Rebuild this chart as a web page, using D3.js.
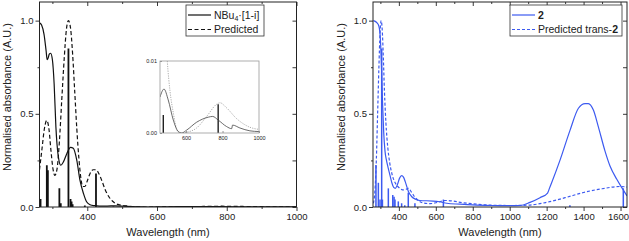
<!DOCTYPE html>
<html>
<head>
<meta charset="utf-8">
<script src="https://cdn.jsdelivr.net/npm/d3@7"></script>
<style>
body { margin: 0; background: #fff; }
text { font-family: "Liberation Sans", Arial, sans-serif; fill: #222; }
</style>
</head>
<body>
<div id="chart"></div>
<script>
////// data: left panel (NBu4[1-i]) //////
var expWl  = [263, 269, 276, 282, 285, 288, 291, 295, 300, 305, 310, 317, 324, 331, 341, 352, 360, 370, 379, 389, 398, 408, 420, 435,
              457, 479, 502, 530, 557, 576, 603, 658, 722, 746, 776, 822, 850, 855, 895, 950, 1000];
var expAbs = [0.988, 0.976, 0.926, 0.837, 0.79, 0.80, 0.82, 0.825, 0.79, 0.66, 0.43, 0.27, 0.224, 0.24, 0.285, 0.32, 0.315, 0.25, 0.144, 0.073, 0.028, 0.012, 0.007, 0.005,
              0.005, 0.0061, 0.0046, 0.0018, 0.0002, 0.0, 0.0004, 0.0015, 0.0022, 0.0023, 0.0018, 0.0009, 0.0006, 0.0011, 0.0007, 0.0003, 0.0002];

var predWl  = [263, 270, 277, 284, 290, 296, 302, 307, 313, 320, 327, 334, 340, 346, 352, 358, 364, 370, 376, 382, 387, 393, 400, 408, 417, 425, 433, 442, 452, 462, 472, 482, 490,
               497, 512, 530, 548, 567, 603, 658, 713, 768, 786, 822, 877, 950, 1000];
var predAbs = [0.2, 0.31, 0.42, 0.465, 0.42, 0.30, 0.20, 0.17, 0.20, 0.35, 0.58, 0.80, 0.95, 1.0, 0.96, 0.82, 0.62, 0.42, 0.26, 0.15, 0.11, 0.11, 0.14, 0.18, 0.20, 0.20, 0.18, 0.14, 0.09, 0.055, 0.032, 0.018, 0.013,
               0.010, 0.0058, 0.0028, 0.0006, 0.0, 0.0001, 0.0007, 0.0023, 0.004, 0.0042, 0.0035, 0.002, 0.0008, 0.0005];

var stickWl  = [266, 284, 287, 320, 324, 346, 352, 355, 358, 393, 425, 475, 776];
var stickAbs = [0.043, 0.224, 0.197, 0.10, 0.02, 0.85, 0.043, 0.03, 0.015, 0.008, 0.18, 0.0025, 0.004];

////// data: right panel (2) //////
var exp2Wl  = [262, 280, 292, 300, 306, 312, 318, 325, 333, 342, 352, 362, 372, 381, 392, 404, 415, 425, 435, 451, 470, 490, 514, 585, 620, 659, 731, 800, 900, 1000,
               1056, 1110, 1164, 1205, 1215, 1227, 1272, 1326, 1372, 1408, 1426, 1453, 1480, 1516, 1543, 1579, 1606, 1635];
var exp2Abs = [1.0, 0.99, 0.97, 0.9, 0.75, 0.55, 0.4, 0.3, 0.25, 0.21, 0.17, 0.13, 0.105, 0.1, 0.12, 0.155, 0.168, 0.16, 0.135, 0.085, 0.055, 0.042, 0.035, 0.032, 0.028, 0.02, 0.015, 0.011, 0.008, 0.007,
               0.008, 0.025, 0.05, 0.075, 0.1, 0.13, 0.25, 0.41, 0.53, 0.555, 0.555, 0.52, 0.43, 0.30, 0.22, 0.15, 0.105, 0.06];

var pred2Wl  = [262, 270, 278, 285, 292, 298, 304, 310, 316, 322, 330, 340, 350, 362, 375, 390, 405, 420, 440, 451, 468, 485, 505, 530, 570, 610, 650, 690, 740, 800, 900, 1000,
                1100, 1200, 1300, 1400, 1500, 1600, 1635];
var pred2Abs = [0.02, 0.08, 0.25, 0.5, 0.75, 0.93, 1.0, 0.95, 0.8, 0.62, 0.45, 0.32, 0.24, 0.18, 0.14, 0.115, 0.1, 0.092, 0.095, 0.1, 0.08, 0.055, 0.035, 0.022, 0.018, 0.025, 0.035, 0.032, 0.024, 0.017, 0.01, 0.008,
                0.01, 0.025, 0.05, 0.078, 0.098, 0.11, 0.107];

var stick2Wl  = [276, 289, 298, 307, 311, 343, 367, 374, 379, 397, 415, 432, 451, 487, 641, 1326, 1615];
var stick2Abs = [0.225, 0.13, 0.04, 0.85, 0.04, 0.1, 0.065, 0.055, 0.04, 0.03, 0.02, 0.01, 0.077, 0.02, 0.04, 0.01, 0.1];

var yMajor = [0, 0.5, 1.0];
var yMinor = [0.25, 0.75];

var svg = d3.select("#chart")
    .append("svg")
    .attr("width", 629)
    .attr("height", 241);

svg.append("rect").attr("width", 629).attr("height", 241).attr("fill", "#fff");

function zip(xs, ys) {
    return xs.map(function(d, i) { return {wl: d, a: ys[i]}; });
}

function styleAxis(g, fontSize) {
    g.select(".domain").remove();
    g.selectAll("line").attr("stroke", "#222").attr("stroke-width", 0.9);
    g.selectAll("text").style("font-size", fontSize + "px").attr("fill", "#222")
        .style("font-family", '"Liberation Sans", Arial, sans-serif');
}

function drawPanel(p) {
    var x = d3.scaleLinear().domain(p.xDomain).range([p.left, p.right]);
    var y = d3.scaleLinear().domain([0, 1.1]).range([p.bottom, p.top]);

    var g = svg.append("g");

    g.append("clipPath").attr("id", p.id + "-clip")
        .append("rect")
        .attr("x", p.left).attr("y", p.top)
        .attr("width", p.right - p.left).attr("height", p.bottom - p.top);

    var plot = g.append("g").attr("clip-path", "url(#" + p.id + "-clip)");

    var line = d3.line()
        .x(function(d) { return x(d.wl); })
        .y(function(d) { return y(d.a); })
        .curve(d3.curveMonotoneX);

    // sticks first, curves on top
    plot.selectAll(".stick")
        .data(zip(p.stickWl, p.stickAbs))
        .enter()
        .append("line")
        .attr("class", "stick")
        .attr("x1", function(d) { return x(d.wl); })
        .attr("x2", function(d) { return x(d.wl); })
        .attr("y1", y(0))
        .attr("y2", function(d) { return y(d.a); })
        .attr("stroke", p.color)
        .attr("stroke-width", p.stickWidth);

    plot.append("path")
        .datum(zip(p.predWl, p.predAbs))
        .attr("d", line)
        .attr("fill", "none")
        .attr("stroke", p.color)
        .attr("stroke-width", 1.2)
        .attr("stroke-dasharray", p.dash);

    plot.append("path")
        .datum(zip(p.expWl, p.expAbs))
        .attr("d", line)
        .attr("fill", "none")
        .attr("stroke", p.color)
        .attr("stroke-width", 1.2);

    // axes
    var bottomAxis = g.append("g").attr("transform", "translate(0," + p.bottom + ")")
        .call(d3.axisBottom(x).tickValues(p.xMajor).tickSize(4).tickPadding(2).tickFormat(d3.format("d")))
        .call(styleAxis, 9.5);
    // keep the last label inside the picture
    bottomAxis.selectAll(".tick text")
        .attr("dx", function(d) { return x(d) + 11 > 629 ? 629 - 11 - x(d) : 0; });
    g.append("g").attr("transform", "translate(0," + p.bottom + ")")
        .call(d3.axisBottom(x).tickValues(p.xMinor).tickSize(2).tickFormat(""))
        .call(styleAxis, 9.5);
    g.append("g").attr("transform", "translate(0," + p.top + ")")
        .call(d3.axisTop(x).tickValues(p.xMajor).tickSize(-4).tickFormat(""))
        .call(styleAxis, 9.5);
    g.append("g").attr("transform", "translate(0," + p.top + ")")
        .call(d3.axisTop(x).tickValues(p.xMinor).tickSize(-2).tickFormat(""))
        .call(styleAxis, 9.5);

    g.append("g").attr("transform", "translate(" + p.left + ",0)")
        .call(d3.axisLeft(y).tickValues(yMajor).tickSize(4).tickPadding(2).tickFormat(d3.format(".1f")))
        .call(styleAxis, 9.5);
    g.append("g").attr("transform", "translate(" + p.left + ",0)")
        .call(d3.axisLeft(y).tickValues(yMinor).tickSize(2).tickFormat(""))
        .call(styleAxis, 9.5);
    g.append("g").attr("transform", "translate(" + p.right + ",0)")
        .call(d3.axisRight(y).tickValues(yMajor.concat(yMinor)).tickSize(-4).tickFormat(""))
        .call(styleAxis, 9.5);

    g.append("rect")
        .attr("x", p.left).attr("y", p.top)
        .attr("width", p.right - p.left).attr("height", p.bottom - p.top)
        .attr("fill", "none").attr("stroke", "#222").attr("stroke-width", 1);

    // axis titles
    g.append("text")
        .attr("x", (p.left + p.right) / 2)
        .attr("y", 236)
        .attr("text-anchor", "middle")
        .style("font-size", "11px")
        .text("Wavelength (nm)");

    g.append("text")
        .attr("transform", "translate(" + p.yTitleX + ",97) rotate(-90)")
        .attr("text-anchor", "middle")
        .style("font-size", "11px")
        .text("Normalised absorbance (A.U.)");

    // legend
    var lg = g.append("g").attr("transform", "translate(" + p.legendX + ",5)");
    lg.append("rect")
        .attr("width", p.legendW).attr("height", 31)
        .attr("fill", "#fff").attr("stroke", "#333").attr("stroke-width", 0.8);
    lg.append("line").attr("x1", 2).attr("x2", 25).attr("y1", 10).attr("y2", 10)
        .attr("stroke", p.color).attr("stroke-width", 1.2);
    lg.append("line").attr("x1", 2).attr("x2", 25).attr("y1", 24.5).attr("y2", 24.5)
        .attr("stroke", p.color).attr("stroke-width", 1.2).attr("stroke-dasharray", p.dash);
    p.legendText(lg.append("text").attr("x", 28).attr("y", 13.8).style("font-size", "10.5px"), 0);
    p.legendText(lg.append("text").attr("x", 28).attr("y", 28.3).style("font-size", "10.5px"), 1);

    return {x: x, y: y, g: g};
}

var left = drawPanel({
    id: "left", left: 39.5, right: 296.5, top: 2, bottom: 207,
    xDomain: [263, 1000], xMajor: [400, 600, 800, 1000], xMinor: [300, 500, 700, 900],
    color: "#111", dash: "4,2.5", stickWidth: 1.8,
    expWl: expWl, expAbs: expAbs, predWl: predWl, predAbs: predAbs, stickWl: stickWl, stickAbs: stickAbs,
    yTitleX: 11, legendX: 186, legendW: 78,
    legendText: function(t, i) {
        if (i == 0) {
            t.append("tspan").text("NBu");
            t.append("tspan").attr("dy", 2.5).style("font-size", "7px").text("4");
            t.append("tspan").attr("dy", -2.5).text("\u00b7[1-i]");
        } else {
            t.text("Predicted");
        }
    }
});

drawPanel({
    id: "right", left: 373, right: 627, top: 2, bottom: 207,
    xDomain: [260, 1635], xMajor: [400, 600, 800, 1000, 1200, 1400, 1600], xMinor: [300, 500, 700, 900, 1100, 1300, 1500],
    color: "#3c5af0", dash: "3,2", stickWidth: 1.5,
    expWl: exp2Wl, expAbs: exp2Abs, predWl: pred2Wl, predAbs: pred2Abs, stickWl: stick2Wl, stickAbs: stick2Abs,
    yTitleX: 345, legendX: 510, legendW: 112,
    legendText: function(t, i) {
        if (i == 0) {
            t.append("tspan").style("font-weight", "bold").text("2");
        } else {
            t.append("tspan").text("Predicted trans-");
            t.append("tspan").style("font-weight", "bold").text("2");
        }
    }
});

////// inset (left panel, 457-1000 nm zoom) //////
var ix = d3.scaleLinear().domain([457, 1000]).range([160, 259]);
var iy = d3.scaleLinear().domain([0, 0.01]).range([133, 61]);

var inset = svg.append("g");
inset.append("clipPath").attr("id", "inset-clip")
    .append("rect").attr("x", 160).attr("y", 61).attr("width", 99).attr("height", 72);
inset.append("rect").attr("x", 160).attr("y", 61).attr("width", 99).attr("height", 72)
    .attr("fill", "#fff");

var insetPlot = inset.append("g").attr("clip-path", "url(#inset-clip)");
var iline = d3.line()
    .x(function(d) { return ix(d.wl); })
    .y(function(d) { return iy(d.a); })
    .curve(d3.curveMonotoneX);

insetPlot.selectAll(".istick")
    .data(zip(stickWl, stickAbs).filter(function(d) { return d.wl >= 457; }))
    .enter()
    .append("line")
    .attr("x1", function(d) { return ix(d.wl); })
    .attr("x2", function(d) { return ix(d.wl); })
    .attr("y1", iy(0))
    .attr("y2", function(d) { return iy(d.a); })
    .attr("stroke", "#111").attr("stroke-width", 1.3);

insetPlot.append("path")
    .datum(zip(predWl, predAbs).filter(function(d) { return d.wl >= 482; }))
    .attr("d", iline)
    .attr("fill", "none").attr("stroke", "#999").attr("stroke-width", 0.8)
    .attr("stroke-dasharray", "1.2,1.2");

insetPlot.append("path")
    .datum(zip(expWl, expAbs).filter(function(d) { return d.wl >= 457; }))
    .attr("d", iline)
    .attr("fill", "none").attr("stroke", "#444").attr("stroke-width", 0.8);

inset.append("g").attr("transform", "translate(0,133)")
    .call(d3.axisBottom(ix).tickValues([600, 800, 1000]).tickSize(-2).tickPadding(3).tickFormat(d3.format("d")))
    .call(styleAxis, 5.5);
inset.append("g").attr("transform", "translate(160,0)")
    .call(d3.axisLeft(iy).tickValues([0, 0.01]).tickSize(-2).tickPadding(3).tickFormat(d3.format(".2f")))
    .call(styleAxis, 5.5);
inset.selectAll("line").attr("stroke", "#888");
inset.selectAll(".tick text").attr("fill", "#555");
insetPlot.selectAll("line").attr("stroke", "#111");

inset.append("rect").attr("x", 160).attr("y", 61).attr("width", 99).attr("height", 72)
    .attr("fill", "none").attr("stroke", "#999").attr("stroke-width", 0.8);
</script>
</body>
</html>
